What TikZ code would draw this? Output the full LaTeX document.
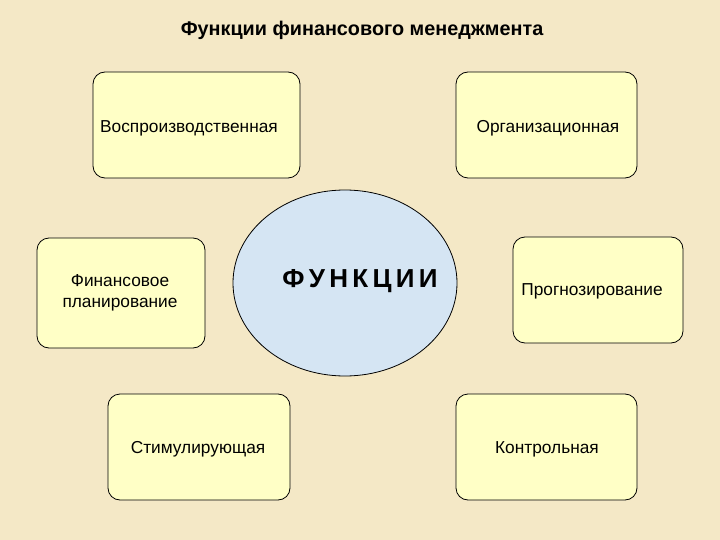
\documentclass[tikz,border=0pt]{standalone}
\usepackage{fontspec}
\setmainfont{Liberation Sans}
\begin{document}
\begin{tikzpicture}[x=1pt,y=-1pt,
  box/.style={draw=black,line width=0.8pt,fill=boxfill,rounded corners=12pt},
  lbl/.style={font=\fontsize{17.3}{21}\selectfont,align=center}]
\definecolor{bg}{HTML}{F4E8C6}
\definecolor{boxfill}{HTML}{FFFFC6}
\definecolor{ellfill}{HTML}{D5E5F3}
\fill[bg] (0,0) rectangle (720,540);
\useasboundingbox (0,0) rectangle (720,540);
\node[font=\bfseries\fontsize{19.8}{22}\selectfont] (title) at (362,30) {Функции финансового менеджмента};
\draw[box] (93,72) rectangle (300,178);
\node[lbl] (b1) at (189,128) {Воспроизводственная};
\draw[box] (456,72) rectangle (637,178);
\node[lbl] (b2) at (548,128) {Организационная};
\draw[box] (37,238) rectangle (205,348);
\node[lbl] (b3) at (120,293) {Финансовое\\планирование};
\draw[box] (513,237) rectangle (683,343);
\node[lbl] (b4) at (592,291) {Прогнозирование};
\draw[box] (108,394) rectangle (290,500);
\node[lbl] (b5) at (198,449) {Стимулирующая};
\draw[box] (456,394) rectangle (637,500);
\node[lbl] (b6) at (547,449) {Контрольная};
\draw[fill=ellfill,line width=0.8pt] (345,283) ellipse [x radius=112, y radius=93];
\node[font=\bfseries\fontsize{26}{28}\selectfont] (f) at (360,281) {Ф\,У\,Н\,К\,Ц\,И\,И};
\end{tikzpicture}
\end{document}
